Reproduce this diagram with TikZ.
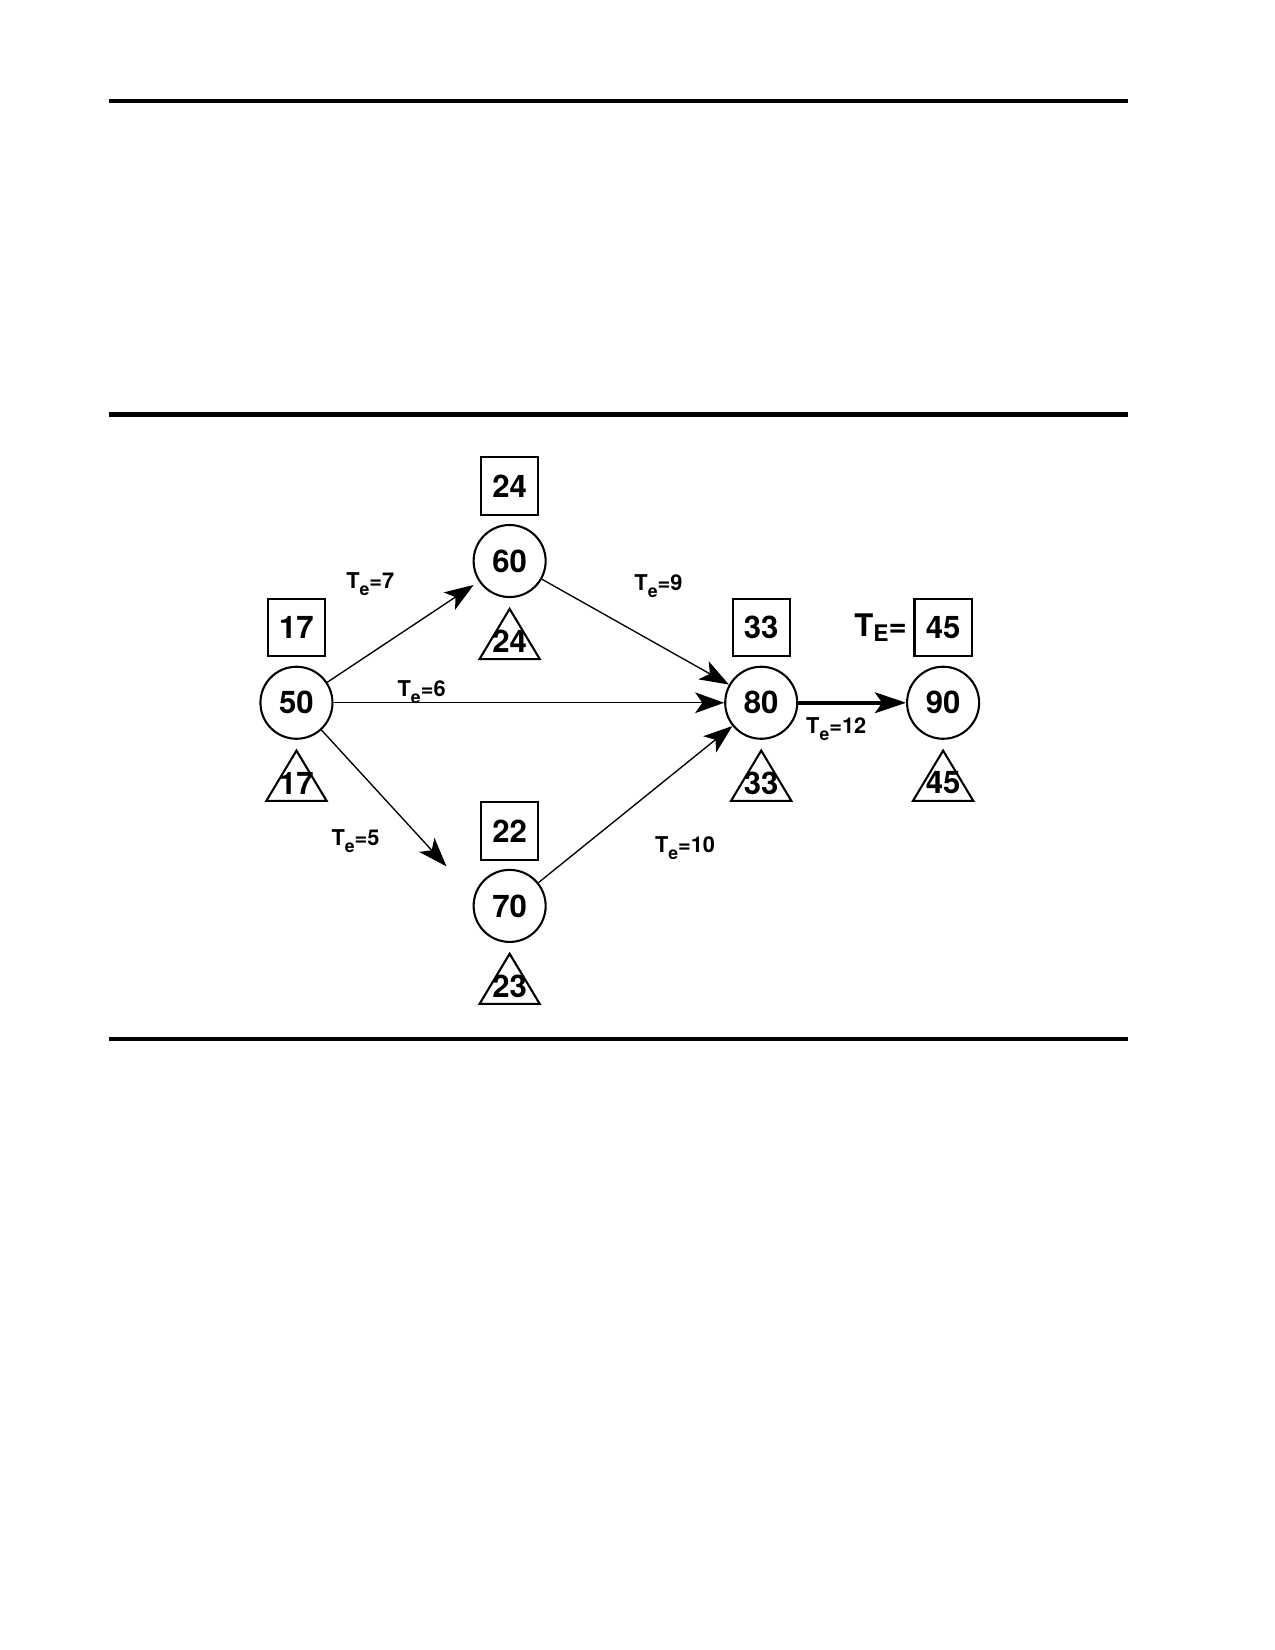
\documentclass[tikz,border=0pt]{standalone}
\usepackage{fontspec}
\setmainfont{TeX Gyre Heros}
\usetikzlibrary{shapes.geometric, arrows.meta}
\newcommand{\subBaix}[2]{\raisebox{#1}{\fontsize{8.5}{9}\selectfont #2}}
\tikzstyle{esdeveniment} = [circle, minimum size=1.22cm, inner sep=0, draw=black, line width=1pt, font=\fontsize{15}{17}\selectfont\bfseries]
\tikzstyle{caixaTemps} = [rectangle, minimum size=0.97cm, inner sep=0, draw=black, line width=1pt, font=\fontsize{15}{17}\selectfont\bfseries]
\tikzstyle{textTriangle} = [inner sep=0, font=\fontsize{15}{17}\selectfont\bfseries]
\tikzstyle{etiquetaTe} = [inner sep=0, font=\fontsize{10.5}{12}\selectfont\bfseries]
\tikzstyle{etiquetaTE} = [inner sep=0, font=\fontsize{15}{17}\selectfont\bfseries]
\tikzstyle{arrow} = [line width=0.65pt, -{Stealth[length=14pt, width=10pt, inset=3.5pt]}]
\tikzstyle{arrowGruixuda} = [line width=1.9pt, -{Stealth[length=15pt, width=10pt, inset=3.5pt]}]
\tikzstyle{linia} = [line width=1pt, line join=miter]
\tikzstyle{separador} = [line width=2.2pt]

\begin{document}
\begin{tikzpicture}[node distance=1.27cm]
	\useasboundingbox (-5.02,-16.04) rectangle (16.57,11.90);
	
	% Esdeveniments
	\node (esd50) [esdeveniment] {50};
	\node (esd60) [esdeveniment, right of=esd50, xshift=2.34cm, yshift=2.40cm] {60};
	\node (esd70) [esdeveniment, right of=esd50, xshift=2.34cm, yshift=-3.44cm] {70};
	\node (esd80) [esdeveniment, right of=esd50, xshift=6.60cm] {80};
	\node (esd90) [esdeveniment, right of=esd80, xshift=1.81cm] {90};
	
	% Caixes (temps esperat)
	\node (caixa50) [caixaTemps, above of=esd50] {17};
	\node (caixa60) [caixaTemps, above of=esd60] {24};
	\node (caixa70) [caixaTemps, above of=esd70] {22};
	\node (caixa80) [caixaTemps, above of=esd80] {33};
	\node (caixa90) [caixaTemps, above of=esd90] {45};
	\node (tE) [etiquetaTE, left of=caixa90, xshift=0.21cm] {T\raisebox{-2.4pt}{\fontsize{11}{12}\selectfont E}=};
	
	% Triangles (temps limit)
	\node (tri50) [textTriangle, below of=esd50, yshift=-0.09cm] {17};
	\node (tri60) [textTriangle, below of=esd60, yshift=-0.09cm] {24};
	\node (tri70) [textTriangle, below of=esd70, yshift=-0.09cm] {23};
	\node (tri80) [textTriangle, below of=esd80, yshift=-0.09cm] {33};
	\node (tri90) [textTriangle, below of=esd90, yshift=-0.09cm] {45};
	\foreach \esd in {50,60,70,80,90}
		\draw [linia] (tri\esd.center) ++(-0.51,-0.30) -- ++(1.02,0) -- ++(-0.51,0.85) -- cycle;
	
	% Etiquetes de les activitats
	\node (dummy7) [etiquetaTe, right of=esd50, xshift=-0.02cm, yshift=2.01cm] {T\subBaix{-3.3pt}{e}=7};
	\node (dummy6) [etiquetaTe, right of=esd50, xshift=0.85cm, yshift=0.18cm] {T\subBaix{-3.3pt}{e}=6};
	\node (dummy5) [etiquetaTe, right of=esd50, xshift=-0.27cm, yshift=-2.34cm] {T\subBaix{-3.3pt}{e}=5};
	\node (dummy9) [etiquetaTe, right of=esd50, xshift=4.86cm, yshift=1.98cm] {T\subBaix{-3.3pt}{e}=9};
	\node (dummy10) [etiquetaTe, right of=esd50, xshift=5.31cm, yshift=-2.46cm] {T\subBaix{-3.3pt}{e}=10};
	\node (dummy12) [etiquetaTe, right of=esd80, yshift=-0.44cm] {T\subBaix{-3.3pt}{e}=12};
	
	\path (esd50) ++(2.54,-2.77) coordinate (punta70);
	
	% Fletxes
	\draw [arrow, shorten >=3pt] (esd50) -- (esd60);
	\draw [arrow] (esd50) -- (esd80);
	\draw [arrow] (esd50) -- (punta70);
	\draw [arrow] (esd60) -- (esd80);
	\draw [arrow] (esd70) -- (esd80);
	\draw [arrowGruixuda] (esd80) -- (esd90);
	
	% Linies horitzontals
	\path (esd50) ++(-3.18,10.19) coordinate (sepA1) ++(17.26,0) coordinate (sepA2);
	\path (esd50) ++(-3.18,4.88) coordinate (sepB1) ++(17.26,0) coordinate (sepB2);
	\path (esd50) ++(-3.18,-5.69) coordinate (sepC1) ++(17.26,0) coordinate (sepC2);
	\draw [separador] (sepA1) -- (sepA2);
	\draw [separador] (sepB1) -- (sepB2);
	\draw [separador] (sepC1) -- (sepC2);
	
\end{tikzpicture}
\end{document}
